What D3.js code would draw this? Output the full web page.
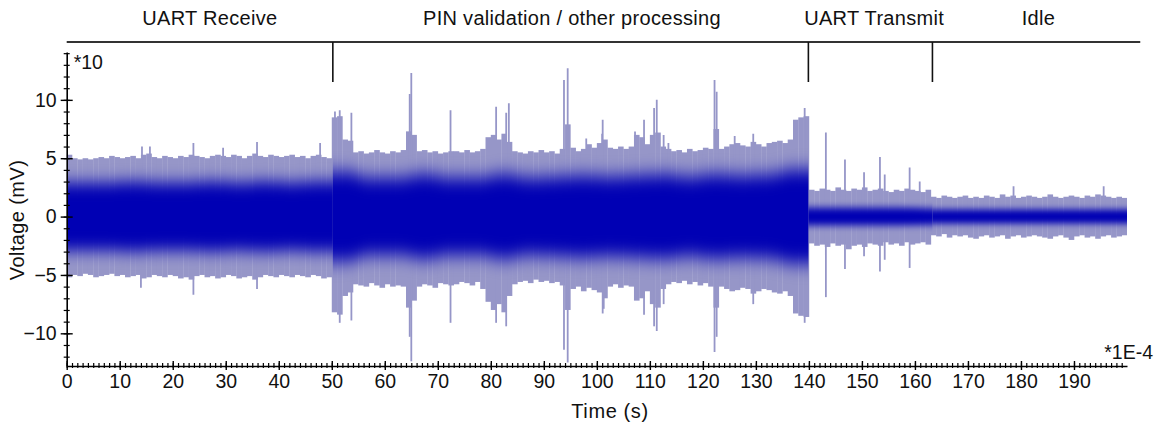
<!DOCTYPE html>
<html>
<head>
<meta charset="utf-8">
<script src="https://cdn.jsdelivr.net/npm/d3@7"></script>
<style>
  body { margin: 0; background: #fff; }
  text { font-family: "Liberation Sans", Arial, sans-serif; fill: #111; }
</style>
</head>
<body>
<svg id="chart" width="1158" height="425"></svg>
<script>
// upper / lower envelope of the trace, one value per second (t = 0..199)
const upperEnv = [
  5.3,5.0,4.9,5.0,4.9,5.0,5.1,5.0,5.2,5.1, 5.0,5.1,5.2,5.0,5.3,5.4,5.1,5.0,5.2,5.1,
  5.0,5.2,5.1,5.3,5.2,5.1,5.0,5.2,5.3,5.2, 5.1,5.3,5.2,5.0,5.2,5.4,5.2,5.1,5.3,5.2,
  5.1,5.2,5.3,5.1,5.2,5.0,5.2,5.3,5.1,5.0,
  8.5,8.6,6.6,6.5,
  5.5,5.6,5.4,5.5,5.7,5.5,5.4,5.6,5.5,5.7,
  7.3,7.0,
  5.6,5.7,5.5,5.6,5.4,5.5,
  5.6,
  5.6,5.5,5.7,5.5,5.6,5.8,
  6.8,7.0,6.6,7.1,6.4,
  5.6,5.5,5.4,5.6,5.5,5.7,5.5,5.6,5.4,5.8,
  7.9,
  5.9,5.6,5.8,6.2,5.9,
  6.3,6.6,
  5.9,5.8,6.0,5.8,6.0,
  7.0,6.8,
  6.2,7.0,7.2,
  6.0,5.8,5.6,5.7,5.5,5.8,5.6,5.7,5.9,5.8,
  7.5,
  5.8,6.0,6.2,6.3,6.1,6.0,6.4,6.2,6.0,6.3,6.4,6.5,6.3,6.6,
  8.3,8.5,8.6,
  2.3,2.2,2.4,2.3,2.2,2.5,2.3,2.2,2.4,2.3,2.5,2.2,2.3,2.4,2.2,2.1,2.3,2.2,2.4,2.3,2.2,2.1,2.3,
  1.7,1.6,1.8,1.7,1.6,1.7,1.8,1.6,1.7,1.6,1.8,1.7,1.6,1.9,1.7,1.8,1.6,1.7,1.8,1.7,
  1.6,1.7,1.9,1.7,1.6,1.7,1.8,1.7,1.6,1.8,1.7,1.9,1.8,1.7,1.6,1.7,1.6
];
const lowerEnv = [
  -5.2,-5.0,-5.1,-4.9,-5.0,-5.2,-5.1,-5.0,-4.9,-5.1, -5.0,-5.2,-5.1,-5.0,-5.3,-5.2,-5.0,-5.1,-5.2,-5.0,
  -5.1,-5.3,-5.2,-5.4,-5.1,-5.0,-5.2,-5.1,-5.3,-5.2, -5.0,-5.1,-5.3,-5.2,-5.1,-5.4,-5.2,-5.0,-5.1,-5.2,
  -5.0,-5.1,-5.2,-5.0,-5.1,-5.2,-5.0,-5.1,-5.3,-5.2,
  -8.2,-8.4,-6.8,-6.5,
  -5.8,-5.9,-6.0,-5.7,-5.9,-6.1,-5.8,-6.0,-5.9,-6.0,
  -7.8,-7.2,
  -6.0,-5.8,-5.9,-6.1,-5.7,-5.8,
  -5.9,
  -5.8,-5.6,-5.7,-5.9,-5.6,-6.2,
  -7.3,-8.0,-7.5,-8.2,-6.8,
  -5.8,-5.6,-5.5,-5.7,-5.4,-5.6,-5.5,-5.7,-5.6,-5.9,
  -8.0,
  -6.2,-6.0,-6.4,-6.1,-6.3,
  -6.5,-7.0,
  -6.0,-5.8,-6.1,-5.9,-6.0,
  -7.2,-7.0,
  -6.4,-7.5,-7.8,
  -6.2,-5.8,-5.6,-5.7,-5.5,-5.8,-5.6,-5.9,-5.7,-6.0,
  -7.8,
  -6.0,-6.2,-6.4,-6.3,-6.1,-6.2,-6.6,-6.4,-6.2,-6.3,-6.5,-6.6,-6.4,-6.8,
  -8.3,-8.5,-8.6,
  -2.3,-2.5,-2.4,-2.6,-2.3,-2.5,-2.4,-2.8,-2.5,-2.4,-2.6,-2.3,-2.4,-2.5,-2.2,-2.4,-2.3,-2.5,-2.2,-2.4,-2.3,-2.2,-2.4,
  -1.6,-1.7,-1.5,-1.8,-1.6,-1.7,-1.6,-1.8,-1.9,-1.7,-1.6,-1.8,-1.7,-1.6,-1.9,-1.7,-1.6,-1.8,-1.7,-1.6,
  -1.7,-1.8,-1.9,-1.7,-1.6,-1.8,-2.0,-1.7,-1.6,-1.8,-1.7,-1.9,-1.7,-1.6,-1.8,-1.7,-1.6
];
// dense (dark) part of the trace, one value per 5 s bin
const coreAmp = [
  2.9,2.9,3.0,2.9,2.9,3.0,2.9,3.0,2.9,3.0,
  3.8,3.3,3.3,3.6,3.3,3.3,3.6,3.3,3.4,3.5,3.4,3.5,3.6,3.4,3.6,3.5,3.6,4.0,
  0.75,0.75,0.75,0.75,0.7,
  0.6,0.6,0.6,0.6,0.6,0.6,0.6
];
// single spikes above / below the envelope
const spikeUpT = [14.2,15.7,23.9,29.5,35.9,47.8,50.6,51.5,53.7,64.7,65.0,72.4,81.0,82.9,83.4,93.8,94.5,98,101.0,101.1,
  107.2,108.9,110.8,111.3,112.6,113.5,122.2,122.6,126,129.5,139.2,143.2,146.8,150.4,153.4,154.3,159,160.9,178.6,195.6];
const spikeUpV = [6.0,6.0,6.3,5.9,6.4,6.3,9.0,9.1,8.9,10.5,12.3,9.1,9.4,8.9,9.7,11.7,12.7,6.7,7.1,8.3,
  7.3,8.3,9.3,10.0,7.0,6.3,11.7,10.7,6.9,7.1,9.3,7.2,4.9,3.8,5.1,3.6,4.2,3.0,2.6,2.6];
const spikeDownT = [14.0,23.9,35.9,51.5,53.7,64.7,65.0,72.4,81.0,82.9,93.8,94.5,101.1,101.3,108.9,110.8,111.3,112.6,
  122.2,122.6,129.5,139.2,143.2,146.8,150.4,153.4,154.3,159];
const spikeDownV = [-6.1,-6.7,-6.2,-9.1,-8.9,-10.3,-12.4,-9.1,-9.1,-9.4,-11.4,-12.5,-8.3,-7.9,-8.4,-9.4,-9.8,-7.5,
  -11.6,-10.3,-7.5,-9.1,-6.9,-4.5,-3.4,-4.7,-3.7,-4.4];

// phases along the top
const phaseBounds = [50.2, 139.9, 163.3];
const phaseNames = ["UART Receive", "PIN validation / other processing", "UART Transmit", "Idle"];
const phaseCenters = [27, 95.3, 152.3, 183.3];

const xTickLabels = [0,10,20,30,40,50,60,70,80,90,100,110,120,130,140,150,160,170,180,190];
const yTickLabels = [-10,-5,0,5,10];

const svg = d3.select("#chart");
const lightCol = "#9696c8";
const darkCol = "#0606b4";
const fontSize = 20;

const x = d3.scaleLinear().domain([0, 200]).range([66.7, 1127]);
const y = d3.scaleLinear().domain([-12.8, 14.1]).range([366, 52]);

const defs = svg.append("defs");
defs.append("clipPath").attr("id", "plotclip")
  .append("rect").attr("x", x(0)).attr("y", 40).attr("width", x(200) - x(0)).attr("height", 330);

const trace = svg.append("g").attr("clip-path", "url(#plotclip)");

//envelope bars
trace.selectAll("rect.env")
     .data(upperEnv)
     .enter()
     .append("rect")
     .attr("class", "env")
     .attr("x", (d, i) => x(i))
     .attr("width", (d, i) => x(i + 1) - x(i) + 0.3)
     .attr("y", d => y(d))
     .attr("height", (d, i) => y(lowerEnv[i]) - y(d))
     .attr("fill", lightCol);

//spikes
trace.selectAll("line.up")
     .data(spikeUpT)
     .enter()
     .append("line")
     .attr("x1", d => x(d)).attr("x2", d => x(d))
     .attr("y1", y(0))
     .attr("y2", (d, i) => y(spikeUpV[i]))
     .attr("stroke", lightCol)
     .attr("stroke-width", 1.8);
trace.selectAll("line.down")
     .data(spikeDownT)
     .enter()
     .append("line")
     .attr("x1", d => x(d)).attr("x2", d => x(d))
     .attr("y1", y(0))
     .attr("y2", (d, i) => y(spikeDownV[i]))
     .attr("stroke", lightCol)
     .attr("stroke-width", 1.8);

//dense core, one softened path per phase so the phase edges stay sharp
const edges = [0].concat(phaseBounds, [200]);
const coreArea = d3.area()
  .curve(d3.curveMonotoneX)
  .x(d => x(d.t))
  .y0(d => y(-d.v))
  .y1(d => y(d.v));
for (let p = 0; p < edges.length - 1; p++) {
  let a = edges[p], b = edges[p + 1];
  let pts = [];
  coreAmp.forEach((v, i) => {
    let mid = i * 5 + 2.5;
    if (mid >= a && mid < b) pts.push({t: mid, v: v});
  });
  pts.unshift({t: a - 3, v: pts[0].v});
  pts.push({t: b + 3, v: pts[pts.length - 1].v});
  let meanAmp = d3.mean(pts, d => d.v);
  let blur = 2 + 2 * meanAmp;
  defs.append("filter").attr("id", "soft" + p)
      .attr("x", "-0.05").attr("y", "-0.6").attr("width", "1.1").attr("height", "2.2")
    .append("feGaussianBlur").attr("stdDeviation", "1.5 " + blur);
  defs.append("clipPath").attr("id", "phase" + p)
    .append("rect").attr("x", x(a)).attr("y", 40).attr("width", x(b) - x(a)).attr("height", 330);
  trace.append("g").attr("clip-path", "url(#phase" + p + ")")
    .append("path")
    .attr("d", coreArea(pts))
    .attr("fill", darkCol)
    .attr("filter", "url(#soft" + p + ")");
}

// axes
const axisY0 = y(-12.8);
const xMinor = svg.append("g")
  .attr("transform", "translate(0," + axisY0 + ")")
  .call(d3.axisBottom(x).tickValues(d3.range(0, 200, 1)).tickFormat("").tickSize(2).tickSizeOuter(0));
xMinor.selectAll(".tick line").attr("y1", -3).attr("stroke", "#000").attr("stroke-width", 1.2);
xMinor.select(".domain").attr("stroke", "#000").attr("stroke-width", 1.6);

const xMajor = svg.append("g")
  .attr("transform", "translate(0," + axisY0 + ")")
  .call(d3.axisBottom(x).tickValues(xTickLabels).tickSize(4).tickSizeOuter(0).tickPadding(4));
xMajor.select(".domain").remove();
xMajor.selectAll(".tick line").attr("y1", -5).attr("stroke", "#000").attr("stroke-width", 1.4);
xMajor.selectAll(".tick text").attr("font-size", 19.5).attr("font-family", "Liberation Sans, Arial").attr("fill", "#111");

const yMinor = svg.append("g")
  .attr("transform", "translate(" + x(0) + ",0)")
  .call(d3.axisLeft(y).tickValues(d3.range(-12, 15, 1)).tickFormat("").tickSize(3).tickSizeOuter(0));
yMinor.selectAll(".tick line").attr("x2", 3).attr("x1", -3).attr("stroke", "#000").attr("stroke-width", 1.2);
yMinor.select(".domain").attr("stroke", "#000").attr("stroke-width", 1.6);

const yMajor = svg.append("g")
  .attr("transform", "translate(" + x(0) + ",0)")
  .call(d3.axisLeft(y).tickValues(yTickLabels).tickSize(6).tickSizeOuter(0).tickPadding(4));
yMajor.select(".domain").remove();
yMajor.selectAll(".tick line").attr("x1", -6).attr("x2", 6).attr("stroke", "#000").attr("stroke-width", 1.4);
yMajor.selectAll(".tick text").attr("font-size", 19.5).attr("font-family", "Liberation Sans, Arial").attr("fill", "#111");

// multipliers
svg.append("text").attr("x", x(0) + 7).attr("y", 69).attr("font-size", 19.5).text("*10");
svg.append("text").attr("x", 1153).attr("y", 359).attr("font-size", 19.5).attr("text-anchor", "end").text("*1E-4");

// axis titles
svg.append("text")
   .attr("x", 610).attr("y", 418)
   .attr("text-anchor", "middle").attr("font-size", fontSize)
   .attr("letter-spacing", 0.6)
   .text("Time (s)");
svg.append("text")
   .attr("transform", "translate(24,220) rotate(-90)")
   .attr("text-anchor", "middle").attr("font-size", fontSize)
   .attr("letter-spacing", 0.4)
   .text("Voltage (mV)");

// phase bar at the top
svg.append("line")
   .attr("x1", x(0)).attr("x2", x(202.5))
   .attr("y1", 42).attr("y2", 42)
   .attr("stroke", "#333").attr("stroke-width", 2);
svg.selectAll("line.sep")
   .data(phaseBounds)
   .enter()
   .append("line")
   .attr("x1", d => x(d)).attr("x2", d => x(d))
   .attr("y1", 42).attr("y2", 82)
   .attr("stroke", "#111").attr("stroke-width", 1.6);
svg.selectAll("text.phase")
   .data(phaseNames)
   .enter()
   .append("text")
   .attr("x", (d, i) => x(phaseCenters[i]))
   .attr("y", 25)
   .attr("text-anchor", "middle")
   .attr("font-size", fontSize)
   .attr("letter-spacing", 0.3)
   .text(d => d);
</script>
</body>
</html>
